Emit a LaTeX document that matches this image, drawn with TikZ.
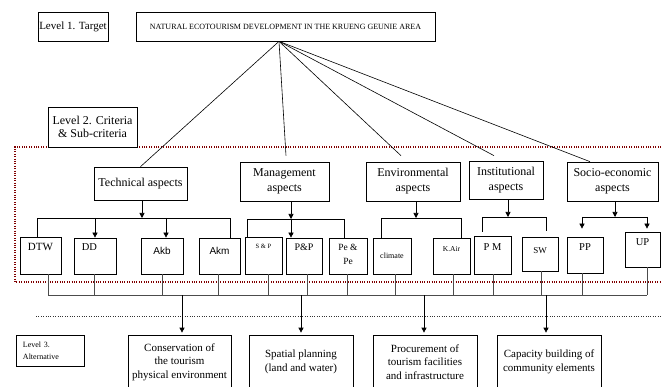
\documentclass[tikz,border=0pt]{standalone}
\usepackage{fontspec}
\setmainfont{Liberation Serif}
\setsansfont{Liberation Sans}
\usetikzlibrary{arrows.meta}
\tikzset{
	box/.style={draw, line width=0.7pt, inner sep=0pt, align=center},
	asp/.style={box, minimum height=39pt, font=\fontsize{12}{15}\selectfont},
	sub/.style={box, minimum height=36pt},
	alt/.style={box, minimum width=104pt, minimum height=54pt, font=\fontsize{11}{13.5}\selectfont},
	lab/.style={anchor=center, inner sep=0pt, align=center},
	link/.style={line width=0.6pt},
	arr/.style={line width=0.7pt, -{Triangle[length=5pt,width=5pt]}},
	drop/.style={line width=0.7pt, black!70},
}
\begin{document}
\begin{tikzpicture}[x=1pt,y=-1pt]
	\useasboundingbox (0,0) rectangle (661,387);
	\draw[red!50!black, line width=1.2pt, dash pattern=on 1pt off 1.4pt] (661,147) -- (15,147) -- (15,282) -- (661,282);
	\draw[black!80, line width=1pt, dash pattern=on 1pt off 1.4pt] (36,316) -- (661,316);
	% level 1
	\node[box, minimum width=70pt, minimum height=29pt, font=\fontsize{11}{13}\selectfont] (lv1) at (73,26.5) {Level 1. Target};
	\node[box, minimum width=299pt, minimum height=29pt, font=\fontsize{8}{10}\selectfont] (goal) at (285.5,26.5) {NATURAL ECOTOURISM DEVELOPMENT IN THE KRUENG GEUNIE AREA};
	\coordinate (apex) at ([xshift=-6.5pt]goal.south);
	% level 2
	\node[box, fill=white, minimum width=89pt, minimum height=40pt, font=\fontsize{12}{13}\selectfont] (lv2) at (92.5,127) {Level 2. Criteria\\\& Sub-criteria};
	\node[asp, minimum width=93pt, minimum height=33pt] (tech) at (140.5,183.5) {Technical aspects};
	\node[asp, minimum width=89pt] (mgmt) at (284.5,181.5) {Management\\aspects};
	\node[asp, minimum width=94pt] (env) at (413,181.5) {Environmental\\aspects};
	\node[asp, minimum width=74pt, minimum height=38pt] (inst) at (506,180) {Institutional\\aspects};
	\node[asp, minimum width=91pt] (soc) at (612.5,181.5) {Socio-economic\\aspects};
	\draw[link] (apex) -- (tech.north);
	\draw[link] (apex) -- ([xshift=1.5pt,yshift=6pt]mgmt.north);
	\draw[link] (apex) -- ([xshift=-12pt,yshift=6pt]env.north);
	\draw[link] (apex) -- ([xshift=-12pt,yshift=5pt]inst.north);
	\draw[link] (apex) -- ([xshift=-22.5pt]soc.north);
	% sub-criteria
	\node[sub, minimum width=41pt, minimum height=37pt, label={[lab, yshift=-10pt, font=\fontsize{11}{13}\selectfont]north:DTW}] (DTW) at (40.5,255.5) {};
	\node[sub, minimum width=42pt, label={[lab, xshift=-5.5pt, yshift=-9pt, font=\fontsize{10.5}{12}\selectfont]north:DD}] (DD) at (95,256) {};
	\node[sub, minimum width=42pt, label={[lab, yshift=-13pt, font=\sffamily\fontsize{10}{12}\selectfont]north:Akb}] (Akb) at (162,256) {};
	\node[sub, minimum width=41pt, label={[lab, yshift=-13pt, font=\sffamily\fontsize{10}{12}\selectfont]north:Akm}] (Akm) at (219.5,256) {};
	\node[sub, minimum width=37pt, minimum height=37pt, label={[lab, yshift=-10pt, font=\fontsize{6.5}{8}\selectfont]north:S \& P}] (SnP) at (263.5,255.5) {};
	\node[sub, minimum width=36pt, label={[lab, yshift=-10pt, font=\fontsize{10}{12}\selectfont]north:P\&P}] (PnP) at (304,256) {};
	\node[sub, minimum width=38pt, label={[lab, yshift=-17pt, font=\fontsize{9.5}{14}\selectfont]north:Pe \&\\Pe}] (PnPe) at (348,256) {};
	\node[sub, minimum width=38pt, label={[lab, yshift=-18pt, font=\fontsize{8}{10}\selectfont]north:climate}] (clim) at (392,256) {};
	\node[sub, minimum width=37pt, label={[lab, yshift=-11pt, font=\fontsize{7.5}{9}\selectfont]north:K.Air}] (KAir) at (451.5,256) {};
	\node[sub, minimum width=37pt, minimum height=38pt, label={[lab, yshift=-11pt, font=\fontsize{10.5}{12}\selectfont]north:P M}] (PM) at (492.5,255) {};
	\node[sub, minimum width=36pt, minimum height=34pt, label={[lab, yshift=-14pt, font=\fontsize{9}{11}\selectfont]north:SW}] (SW) at (540,254) {};
	\node[sub, minimum width=36pt, label={[lab, yshift=-10pt, font=\fontsize{10.5}{12}\selectfont]north:PP}] (PP) at (585,255) {};
	\node[sub, minimum width=35pt, minimum height=35pt, label={[lab, yshift=-10pt, font=\fontsize{10.5}{12}\selectfont]north:UP}] (UP) at (642.5,249.5) {};
	% branches
	\coordinate (tbar) at (0,218);
	\draw[arr] ([xshift=1.5pt]tech.south) -- ([xshift=1.5pt]tech.south |- tbar);
	\draw[link] ([xshift=-3.5pt]DTW.north) |- ([xshift=10.5pt]Akm.north |- tbar) -- ([xshift=10.5pt]Akm.north);
	\draw[arr] (DD.north |- tbar) -- (DD.north);
	\draw[arr] ([xshift=4pt]Akb.north |- tbar) -- ([xshift=4pt]Akb.north);
	\coordinate (mbar) at (0,219);
	\draw[arr] ([xshift=6.5pt]mgmt.south) -- ([xshift=6.5pt]mgmt.south |- mbar);
	\draw[link] ([xshift=-16.5pt]SnP.north) |- ([xshift=-4pt]PnPe.north |- mbar) -- ([xshift=-4pt]PnPe.north);
	\draw[arr] ([xshift=-13pt]PnP.north |- mbar) -- ([xshift=-13pt]PnP.north);
	\coordinate (ebar) at (0,218);
	\draw[arr] ([xshift=3pt]env.south) -- ([xshift=3pt]env.south |- ebar);
	\draw[link] ([xshift=-11pt]clim.north) |- ([xshift=9.5pt]KAir.north |- ebar) -- ([xshift=9.5pt]KAir.north);
	\coordinate (ibar) at (0,217);
	\draw[arr] ([xshift=2pt]inst.south) -- ([xshift=2pt]inst.south |- ibar);
	\draw[link, shorten <=4pt, shorten >=6pt] ([xshift=-10.5pt]PM.north) |- ([xshift=6pt]SW.north |- ibar) -- ([xshift=6pt]SW.north);
	\coordinate (sbar) at (0,217);
	\draw[arr] ([xshift=2.5pt]soc.south) -- ([xshift=2.5pt]soc.south |- sbar);
	\draw[link] ([xshift=-3pt]PP.north |- sbar) -- ([xshift=4.5pt]UP.north |- sbar);
	\draw[arr, shorten >=8pt] ([xshift=-3pt]PP.north |- sbar) -- ([xshift=-3pt]PP.north);
	\draw[arr, shorten >=3pt] ([xshift=4.5pt]UP.north |- sbar) -- ([xshift=4.5pt]UP.north);
	% level 3
	\node[box, minimum width=68pt, minimum height=31pt, text width=54pt, align=left, font=\fontsize{8}{12}\selectfont] (lv3) at (50,350.5) {Level 3.\\Alternative};
	\node[alt, minimum width=103pt] (cons) at (179.5,362) {Conservation of\\the tourism\\physical environment};
	\node[alt] (plan) at (301,362) {Spatial planning\\(land and water)};
	\node[alt] (proc) at (425,362) {Procurement of\\tourism facilities\\and infrastructure};
	\node[alt] (cap) at (549,362) {Capacity building of\\community elements};
	\coordinate (bbar) at (0,295);
	\draw[drop] ([xshift=7.5pt]DTW.south |- bbar) -- ([xshift=4.5pt]UP.south |- bbar);
	\foreach \n/\s in {DTW/7.5,DD/-1,Akb/0,Akm/-1.5,SnP/4.5,PnP/3,PnPe/-1,clim/3,KAir/1.5,PM/0.5,SW/1,PP/-3,UP/4.5}
		\draw[drop] ([xshift=\s pt]\n.south) -- ([xshift=\s pt]\n.south |- bbar);
	\foreach \n/\s in {cons/2.5,plan/0,proc/-1,cap/-3}
		\draw[arr, shorten >=2pt] ([xshift=\s pt]\n.north |- bbar) -- ([xshift=\s pt]\n.north);
\end{tikzpicture}
\end{document}
